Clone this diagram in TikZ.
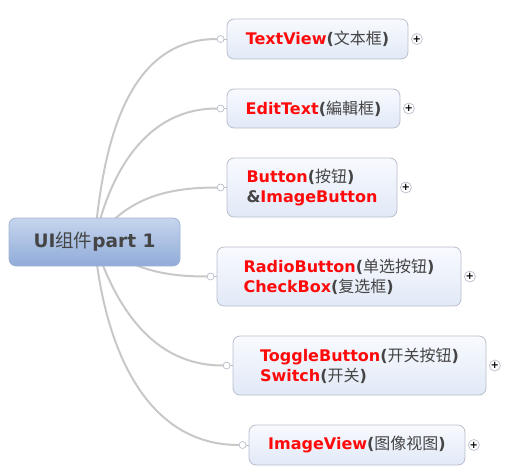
\documentclass[tikz,border=0pt]{standalone}
\usepackage{fontspec}
\setmainfont{DejaVu Sans}
\newfontfamily\cjk{Noto Sans CJK SC}
\usetikzlibrary{backgrounds}

\definecolor{linegray}{HTML}{C8C8C8}
\definecolor{boxline}{HTML}{B9BECB}
\definecolor{boxtop}{HTML}{F8FAFE}
\definecolor{boxbot}{HTML}{E1E9F7}
\definecolor{roottop}{HTML}{C6D5EE}
\definecolor{rootbot}{HTML}{8FABD8}
\definecolor{rootline}{HTML}{A3B5D4}
\definecolor{wordred}{HTML}{FF0A0A}
\definecolor{cngray}{HTML}{454545}

\newcommand\redword[1]{{\color{wordred}#1}}
\newcommand\cnword[1]{{\color{cngray}({\cjk\mdseries #1})}}

\begin{document}
\begin{tikzpicture}[x=1pt,y=1pt]
\tikzstyle{every node}=[inner sep=0pt]

\tikzstyle{topic}=[draw=boxline,line width=0.8pt,rounded corners=7pt,
  top color=boxtop,bottom color=boxbot,align=left,
  font=\fontsize{16}{20}\selectfont\bfseries]
\tikzstyle{roottopic}=[draw=rootline,line width=0.8pt,rounded corners=7pt,
  top color=roottop,bottom color=rootbot,text=cngray,
  font=\fontsize{18.5}{22}\selectfont\bfseries]
\tikzstyle{joint}=[circle,draw=boxline,fill=white,line width=0.7pt,minimum size=7pt]
\tikzstyle{plusmark}=[circle,draw=boxline,fill=white,line width=0.7pt,minimum size=11pt,
  font=\fontsize{10}{10}\selectfont\bfseries]
\tikzstyle{branch}=[draw=linegray,line width=2pt]

\useasboundingbox (0,0) rectangle (530,-472);

%% Central topic
\node [roottopic,minimum width=171pt,minimum height=48pt] (root) at (94.5,-242)
  {UI{\cjk\mdseries 组件}part 1};

%% Sub topics
\node [topic,minimum width=181pt,minimum height=40pt] (textview) at (317.5,-39)
  {\redword{TextView}\cnword{文本框}};
\node [topic,minimum width=173pt,minimum height=39pt] (edittext) at (313.5,-108.5)
  {\redword{EditText}\cnword{編輯框}};
\node [topic,minimum width=170pt,minimum height=59pt] (button) at (312,-187.5)
  {\redword{Button}\cnword{按钮}\\{\color{cngray}\&}\redword{ImageButton}};
\node [topic,minimum width=244pt,minimum height=59pt] (radio) at (339,-276.5)
  {\redword{RadioButton}\cnword{单选按钮}\\\redword{CheckBox}\cnword{复选框}};
\node [topic,minimum width=253pt,minimum height=59pt] (toggle) at (359.5,-365.5)
  {\redword{ToggleButton}\cnword{开关按钮}\\\redword{Switch}\cnword{开关}};
\node [topic,minimum width=216pt,minimum height=40pt] (imageview) at (357,-445)
  {\redword{ImageView}\cnword{图像视图}};

%% Joints and plus marks
\foreach \t in {textview,edittext,button,radio,toggle,imageview}{
  \node [joint] (\t-in) at ([xshift=-6pt]\t.west) {};
  \draw [boxline,line width=0.7pt] (\t-in) -- (\t.west);
  \node [plusmark] (\t-plus) at ([xshift=8.5pt]\t.east) {+};
}

%% Branches from the central topic
\begin{pgfonlayer}{background}
\draw [branch] (root.center) to[out=85,in=180] (textview-in);
\draw [branch] (root.center) to[out=78,in=180] (edittext-in);
\draw [branch] (root.center) to[out=55,in=180] (button-in);
\draw [branch] (root.center) to[out=-35,in=180] (radio-in);
\draw [branch] (root.center) to[out=-72,in=180] (toggle-in);
\draw [branch] (root.center) to[out=-85,in=180] (imageview-in);
\end{pgfonlayer}
\end{tikzpicture}
\end{document}
